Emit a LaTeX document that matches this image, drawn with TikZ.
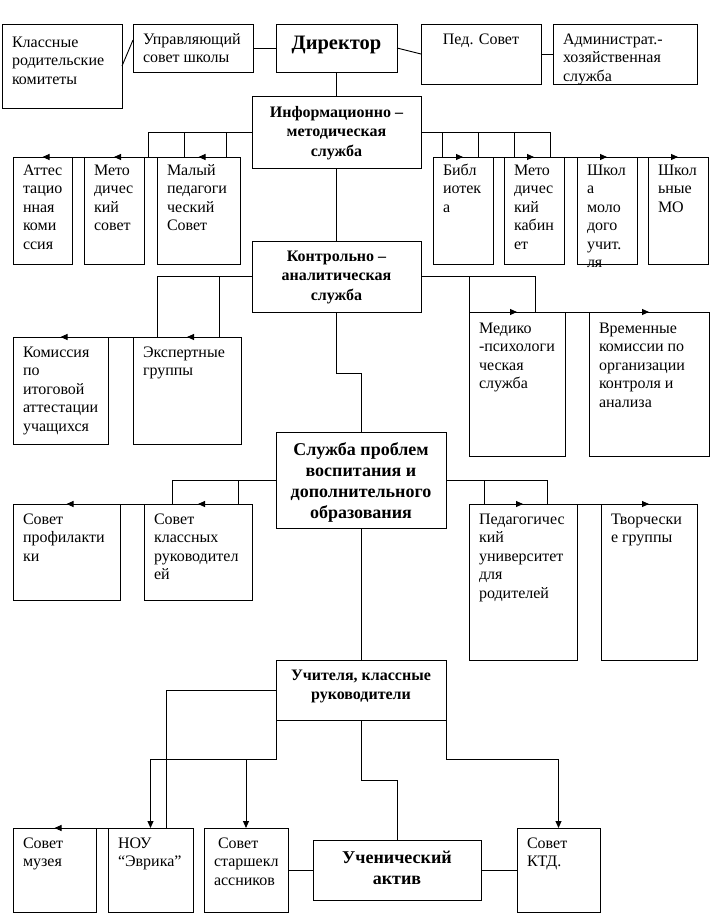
\documentclass[tikz,border=0pt]{standalone}
\usepackage{fontspec}
\setmainfont{Liberation Serif}
\usetikzlibrary{arrows.meta}
\newcommand\stl{\fontsize{16pt}{18.5pt}\selectfont\raggedright\leftskip=10pt\relax}
\newcommand\stc{\fontsize{16pt}{18.5pt}\selectfont\centering}
\newcommand\sth{\fontsize{16pt}{19.5pt}\selectfont\bfseries\centering}
\newcommand\stH{\fontsize{18pt}{21pt}\selectfont\bfseries\centering}
\newcommand\stD{\fontsize{20.5pt}{23pt}\selectfont\bfseries\centering}
\newcommand\bxc[5]{\vbox to #2{\hsize=#1\relax\parindent=0pt\parskip=0pt\hyphenpenalty=10000 #3\relax
  \vskip\dimexpr#4-\baselineskip\relax\prevdepth=0pt #5\par\vfill}}
\newcommand\bx[8]{\node[box] (#1) at (#2,#3) {\bxc{\dimexpr#4pt-#2pt\relax}{\dimexpr#5pt-#3pt\relax}{#6}{#7pt}{#8}};}
\begin{document}
\begin{tikzpicture}[x=1pt,y=-1pt,
  box/.style={draw, line width=0.9pt, inner sep=0pt, outer sep=0pt, anchor=north west},
  ln/.style={line width=0.9pt},
  arr/.style={ln, -{Triangle[length=7pt,width=6pt]}}]
\useasboundingbox (0,0) rectangle (710,913);
\fill[white] (0,0) rectangle (710,913);
% top row
\bx{kl}{2}{24}{122}{108}{\stl}{23}{Классные\\родительские\\комитеты}
\bx{upr}{133}{24}{253}{72}{\stl}{20}{Управляющий\\совет школы}
\bx{dir}{276}{24}{397}{72}{\stD}{25}{Директор}
\bx{ped}{421}{24}{541}{84}{\stc}{20}{Пед. Совет}
\bx{adm}{553}{24}{697}{84}{\stl}{20}{Администрат.-\\хозяйственная\\служба}
% info
\bx{info}{252}{96}{421}{168}{\sth}{21}{Информационно –\\методическая\\служба}
\bx{att}{13}{157}{72}{264}{\stl}{18}{Аттес\\тацио\\нная\\коми\\ссия}
\bx{metsov}{84}{157}{144}{264}{\stl}{18}{Мето\\дичес\\кий\\совет}
\bx{malyi}{157}{157}{240}{264}{\stl}{18}{Малый\\педагоги\\ческий\\Совет}
\bx{bib}{433}{157}{493}{264}{\stl}{18}{Библ\\иотек\\а}
\bx{metkab}{504}{157}{564}{264}{\stl}{18}{Мето\\дичес\\кий\\кабин\\ет}
\bx{shk}{577}{157}{637}{264}{\stl}{18}{Школ\\а\\моло\\дого\\учит.\\ля}
\bx{mo}{648}{157}{708}{264}{\stl}{18}{Школ\\ьные\\МО}
% control
\bx{ctrl}{252}{241}{421}{312}{\sth}{20}{Контрольно –\\аналитическая\\служба}
\bx{kom}{13}{337}{108}{444}{\stl}{20}{Комиссия\\по\\итоговой\\аттестации\\учащихся}
\bx{eksp}{133}{337}{241}{444}{\stl}{20}{Экспертные\\группы}
\bx{med}{469}{312}{565}{456}{\stl}{21}{Медико\\-психологи\\ческая\\служба}
\bx{vrem}{589}{312}{709}{456}{\stl}{21}{Временные\\комиссии по\\организации\\контроля и\\анализа}
% education
\bx{sl}{276}{432}{446}{528}{\stH}{23}{Служба проблем\\воспитания и\\дополнительного\\образования}
\bx{prof}{13}{504}{120}{600}{\stl}{20}{Совет\\профилакти\\ки}
\bx{sovkl}{144}{504}{252}{600}{\stl}{20}{Совет\\классных\\руководител\\ей}
\bx{peduni}{469}{504}{577}{660}{\stl}{20}{Педагогичес\\кий\\университет\\для\\родителей}
\bx{tvor}{601}{504}{697}{660}{\stl}{20}{Творчески\\е группы}
% teachers
\bx{uch}{276}{660}{446}{720}{\sth}{20}{Учителя, классные\\руководители}
\bx{muz}{13}{828}{96}{912}{\stl}{20}{Совет\\музея}
\bx{nou}{108}{828}{193}{912}{\stl}{20}{НОУ\\“Эврика”}
\bx{star}{204}{828}{288}{912}{\stl}{20}{\hspace*{4pt}Совет\\старшекл\\ассников}
\bx{akt}{313}{840}{481}{900}{\stH}{23}{Ученический\\актив}
\bx{ktd}{517}{828}{600}{912}{\stl}{20}{Совет\\КТД.}
% connectors
\draw[ln] (kl.east) -- ([yshift=8pt]upr.west);
\draw[ln] (upr.east) -- (dir.west);
\draw[ln] (dir.east) -- (ped.west);
\draw[ln] (ped.east) -- (adm.west);
\draw[ln] (dir.south) -- (info.north);
\draw[arr] (info.west) -| (148,157) -- (att.north);
\draw[arr] (info.west) -| (184,157) -- (metsov.north);
\draw[arr] (info.west) -| (226,157) -- (malyi.north);
\draw[arr] (info.east) -| (442,157) -- (bib.north);
\draw[arr] (info.east) -| (478,157) -- (metkab.north);
\draw[arr] (info.east) -| (514,157) -- (shk.north);
\draw[arr] (info.east) -| (550,157) -- (mo.north);
\draw[ln] (info.south) -- (ctrl.north);
\draw[arr] (ctrl.west) -| (157,337) -- (kom.north);
\draw[arr] (ctrl.west) -| (219,337) -- (eksp.north);
\draw[arr] (ctrl.east) -| (469,312) -- (med.north);
\draw[arr] (ctrl.east) -| (535,312) -- (vrem.north);
\draw[ln] (ctrl.south) -- ++(0,61) -| (sl.north);
\draw[arr] (sl.west) -| (172,504) -- (prof.north);
\draw[arr] (sl.west) -| (238,504) -- (sovkl.north);
\draw[arr] (sl.east) -| (484,504) -- (peduni.north);
\draw[arr] (sl.east) -| (547,504) -- (tvor.north);
\draw[ln] (sl.south) -- (uch.north);
\draw[arr] (uch.west) -| (166,828) -- (muz.north);
\draw[arr] (uch.south west) -- ++(0,39) -| (nou.north);
\draw[arr] (uch.south west) -- ++(0,39) -| (star.north);
\draw[ln] (uch.south) -- ++(0,60) -| (akt.north);
\draw[arr] (uch.south east) -- ++(0,39) -| (ktd.north);
\draw[ln] (star.east) -- (akt.west);
\draw[ln] (akt.east) -- (ktd.west);
\end{tikzpicture}
\end{document}
